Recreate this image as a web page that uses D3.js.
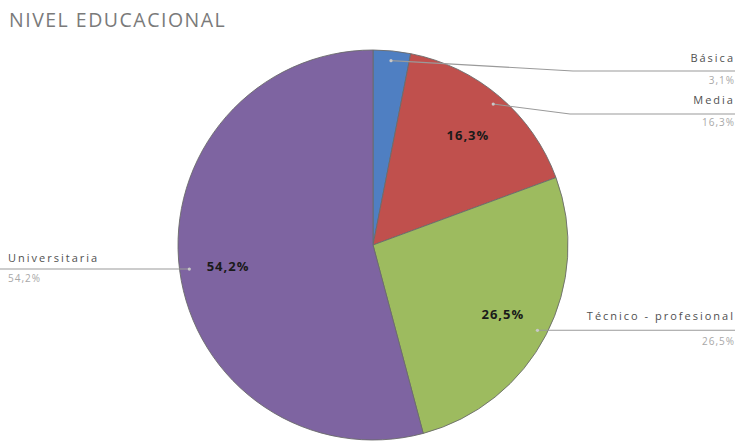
<!DOCTYPE html>
<html><head><meta charset="utf-8">
<script src="https://cdn.jsdelivr.net/npm/d3@7"></script>
<style>body{margin:0;background:#fff}svg{display:block}</style>
</head><body>
<svg id="c" width="735" height="444"></svg>
<script>
const title = "NIVEL EDUCACIONAL";
const categories = ["Básica", "Media", "Técnico - profesional", "Universitaria"];
const values = [3.1, 16.3, 26.5, 54.2];
const valueLabels = ["3,1%", "16,3%", "26,5%", "54,2%"];
const colors = ["#4f7fc2", "#c0504d", "#9dbb5f", "#7e64a1"];
const showInside = [false, true, true, true];

const svg = d3.select("#c");
const cx = 373, cy = 245, R = 195;

svg.append("text").attr("x", 9).attr("y", 27)
  .attr("font-family", "Open Sans, sans-serif").attr("font-size", 19.5)
  .attr("letter-spacing", 1.5)
  .attr("fill", "#7a7a7a").text(title);

const data = categories.map((c, i) => ({name: c, value: values[i], label: valueLabels[i], color: colors[i], inside: showInside[i]}));
const pie = d3.pie().value(d => d.value).sort(null);
const arcs = pie(data);
const arc = d3.arc().innerRadius(0).outerRadius(R);
const g = svg.append("g").attr("transform", `translate(${cx},${cy})`);

g.selectAll("path").data(arcs).join("path")
  .attr("d", arc).attr("fill", d => d.data.color)
  .attr("stroke", "#6b6b6b").attr("stroke-width", 0.9);

const inArc = d3.arc().innerRadius(R * 0.75).outerRadius(R * 0.75);
const dotArc = d3.arc().innerRadius(R * 0.95).outerRadius(R * 0.95);

g.selectAll("text.in").data(arcs.filter(d => d.data.inside)).join("text")
  .attr("class", "in")
  .attr("transform", d => { const c = inArc.centroid(d); return `translate(${c[0]},${c[1] + 2})`; })
  .attr("text-anchor", "middle").attr("dy", "0.35em")
  .attr("font-family", "Open Sans, sans-serif").attr("font-weight", "bold")
  .attr("font-size", 13).attr("letter-spacing", 1)
  .attr("fill", "#1a1a1a").text(d => d.data.label);

// leader lines and outside labels
const elbows = [
  {bend: [573, 71], end: [735, 71], anchor: "end", tx: 735, ny: 62, vy: 84},
  {bend: [570, 114], end: [735, 114], anchor: "end", tx: 735, ny: 104, vy: 126},
  {bend: null, end: [735, 330], anchor: "end", tx: 735, ny: 320, vy: 345},
  {bend: null, end: [0, 268], anchor: "start", tx: 8, ny: 262, vy: 282}
];
const lineGen = d3.line();
arcs.forEach((a, i) => {
  const c = dotArc.centroid(a);
  const p0 = [cx + c[0], cy + c[1]];
  const e = elbows[i];
  const pts = e.bend ? [p0, e.bend, e.end] : [p0, [e.end[0], p0[1]]];
  svg.append("path").attr("d", lineGen(pts)).attr("fill", "none")
    .attr("stroke", "#9a9a9a").attr("stroke-width", 1.1);
  svg.append("circle").attr("cx", p0[0]).attr("cy", p0[1]).attr("r", 1.6).attr("fill", "#c8c8c8");
  svg.append("text").attr("x", e.tx).attr("y", e.ny).attr("text-anchor", e.anchor)
    .attr("font-family", "Open Sans, sans-serif").attr("font-size", 11)
    .attr("letter-spacing", 2).attr("fill", "#505050").text(a.data.name);
  svg.append("text").attr("x", e.tx).attr("y", e.vy).attr("text-anchor", e.anchor)
    .attr("font-family", "Open Sans, sans-serif").attr("font-size", 10)
    .attr("letter-spacing", 1).attr("fill", "#a8a8a8").text(a.data.label);
});
</script>
</body></html>
